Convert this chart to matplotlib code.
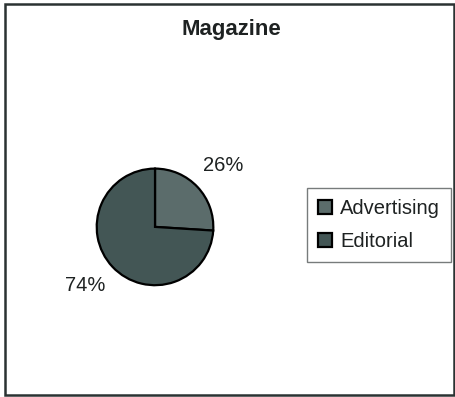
import matplotlib
matplotlib.use("Agg")
import matplotlib.pyplot as plt
from matplotlib.patches import Rectangle

plt.rcParams['font.family'] = ['Liberation Sans', 'DejaVu Sans']

title = "Magazine"
categories = ["Advertising", "Editorial"]
shares = [26, 74]
colors = ["#5b6c6b", "#435655"]
text_color = "#1e2222"

fig = plt.figure(figsize=(4.56, 3.97), dpi=100)
fig.patch.set_facecolor("white")

# outer chart frame
fig.add_artist(Rectangle((5 / 456, 2.5 / 397), 449.5 / 456, 390.5 / 397,
                         transform=fig.transFigure, fill=False,
                         edgecolor="#2b3232", linewidth=1.8))

fig.text(231 / 456, 1 - 30 / 397, title, ha="center", va="center",
         fontsize=16, fontweight="bold", color=text_color)

ax = fig.add_axes([0.2121, 0.2816, 0.2557, 0.2937])
wedges, _ = ax.pie(shares, colors=colors, startangle=90, counterclock=False,
                   radius=1.0,
                   wedgeprops=dict(edgecolor="black", linewidth=1.6))
ax.set_xlim(-1, 1)
ax.set_ylim(-1, 1)
ax.set_aspect("equal")
ax.axis("off")

# percentage labels beside the slices
label_pos = [(1.166, 1.058), (-1.20, -1.0)]
for val, (x, y) in zip(shares, label_pos):
    ax.text(x, y, f"{val}%", ha="center", va="center", fontsize=14.5,
            color=text_color, clip_on=False)

leg = fig.legend(wedges, categories, loc="upper left",
                 bbox_to_anchor=(307 / 456, 1 - 188 / 397),
                 fancybox=False, frameon=True, fontsize=14.5,
                 handlelength=0.7, handleheight=0.7, handletextpad=0.4,
                 labelspacing=0.7, borderpad=0.55, borderaxespad=0)
leg.get_frame().set_edgecolor("#555a5a")
leg.get_frame().set_linewidth(1.0)
for t in leg.get_texts():
    t.set_color(text_color)

fig.savefig("out.png", dpi=100)
